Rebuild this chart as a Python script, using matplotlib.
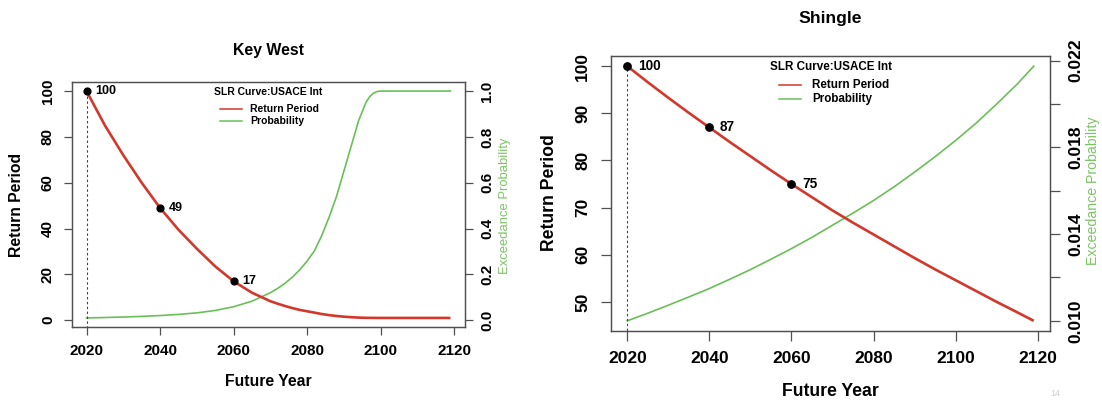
import matplotlib
matplotlib.use("Agg")
import matplotlib.pyplot as plt

plt.rcParams['font.family'] = ['Liberation Sans', 'DejaVu Sans']

# ---------------- data ----------------
# Key West (left panel)
kw_years = [2020, 2025, 2030, 2035, 2040, 2045, 2050, 2055, 2060, 2065, 2070,
            2072, 2074, 2076, 2078, 2080, 2082, 2084, 2086, 2088, 2090, 2092, 2094,
            2096, 2097, 2098, 2099, 2100, 2105, 2110, 2115, 2119]
kw_return_period = [100, 85, 72, 60, 49, 39.5, 31.2, 23.5, 17, 12, 8.3,
                    7.2, 6.2, 5.3, 4.5, 3.9, 3.3, 2.7, 2.22, 1.85, 1.54, 1.32, 1.15,
                    1.05, 1.03, 1.01, 1.0, 1.0, 1.0, 1.0, 1.0, 1.0]
kw_probability = [0.010, 0.0118, 0.0139, 0.0167, 0.0204, 0.0253, 0.032, 0.0426, 0.0588, 0.083,
                  0.12, 0.139, 0.161, 0.188, 0.22, 0.258, 0.303, 0.37, 0.45, 0.54, 0.65,
                  0.76, 0.87, 0.95, 0.975, 0.99, 0.998, 1.0, 1.0, 1.0, 1.0, 1.0]
kw_marked_years = [2020, 2040, 2060]
kw_marked_rp = [100, 49, 17]

# Shingle (right panel)
sh_years = [2020, 2025, 2030, 2035, 2040, 2045, 2050, 2055, 2060, 2065, 2070, 2075,
            2080, 2085, 2090, 2095, 2100, 2105, 2110, 2115, 2119]
sh_return_period = [100, 96.6, 93.3, 90.1, 87, 83.9, 80.9, 77.9, 75, 72.2, 69.4, 66.8,
                    64.3, 61.8, 59.3, 56.9, 54.6, 52.3, 50.0, 47.8, 46.0]
sh_probability = [0.0100, 0.01035, 0.01072, 0.01110, 0.01149, 0.01192, 0.01236, 0.01284,
                  0.01333, 0.01385, 0.01441, 0.01497, 0.01555, 0.01618, 0.01686, 0.01757,
                  0.01832, 0.01912, 0.02000, 0.02092, 0.02174]
sh_marked_years = [2020, 2040, 2060]
sh_marked_rp = [100, 87, 75]

x_ticks = [2020, 2040, 2060, 2080, 2100, 2120]
kw_left_ticks = [0, 20, 40, 60, 80, 100]
kw_right_ticks = [0.0, 0.2, 0.4, 0.6, 0.8, 1.0]
kw_right_labels = ['0.0', '0.2', '0.4', '0.6', '0.8', '1.0']
sh_left_ticks = [50, 60, 70, 80, 90, 100]
sh_right_ticks = [0.010, 0.012, 0.014, 0.016, 0.018, 0.020, 0.022]
sh_right_labels = ['0.010', '', '0.014', '', '0.018', '', '0.022']

titles = ['Key West', 'Shingle']
legend_title = 'SLR Curve:USACE Int'
legend_labels = ['Return Period', 'Probability']

# ---------------- style ----------------
W, H = 1102, 400
RED = '#d2382b'
GREEN = '#6abf58'
GREEN_TXT = '#7cc466'
FRAME = '#505050'

fig = plt.figure(figsize=(W / 100, H / 100), dpi=100)


def fx(x):
    return x / W


def fy(y):
    return 1 - y / H


def rng(vals):
    lo, hi = min(vals), max(vals)
    d = (hi - lo) * 0.04
    return lo - d, hi + d


def panel(rect_px, years, rp, prob, myears, mrp, yticks, rticks, rlabels, s, cfg):
    l, t, r, b = rect_px
    ax = fig.add_axes([fx(l), fy(b), fx(r - l), (b - t) / H])
    ax2 = ax.twinx()
    ax.set_xlim(*rng(years))
    ax.set_ylim(*rng(rp))
    ax2.set_ylim(*rng(prob))
    ax.set_zorder(2)
    ax.patch.set_visible(False)

    ax2.plot(years, prob, color=GREEN, lw=1.2)
    ax.plot(years, rp, color=RED, lw=1.9, solid_capstyle='butt')
    ylo = ax.get_ylim()[0]
    ax.plot([myears[0], myears[0]], [ylo - 5, mrp[0]], color='#444444', lw=0.8,
            ls=(0, (2.2, 2.2)), clip_on=True)
    ax.scatter(myears, mrp, s=cfg['ms'], color='black', zorder=5)
    for xv, yv in zip(myears, mrp):
        ax.annotate(f'{yv:g}', (xv, yv), xytext=(cfg['ann_off'], 0), textcoords='offset points',
                    ha='left', va='center', fontsize=cfg['ann_fs'], fontweight='bold')

    for a in (ax, ax2):
        for sp in a.spines.values():
            sp.set_color(FRAME)
            sp.set_linewidth(0.9)
    ax.set_xticks(x_ticks)
    ax.set_xticklabels([str(v) for v in x_ticks], fontsize=cfg['tick_fs'], fontweight='bold')
    ax.set_yticks(yticks)
    ax.set_yticklabels([str(v) for v in yticks], fontsize=cfg['tick_fs'], fontweight='bold',
                       rotation=90, va='center')
    ax2.set_yticks(rticks)
    ax2.set_yticklabels(rlabels, fontsize=cfg['tick_fs'], fontweight='bold',
                        rotation=90, va='center')
    ax.tick_params(axis='x', length=cfg['tl'], width=0.9, color=FRAME, pad=cfg['xpad'])
    ax.tick_params(axis='y', length=cfg['tl'], width=0.9, color=FRAME, pad=cfg['ypad'])
    ax2.tick_params(axis='y', length=cfg['tl'], width=0.9, color=FRAME, pad=cfg['rpad'])

    # legend (manual, R style)
    cx = (l + r) / 2
    fig.text(fx(cx), fy(cfg['leg_title_y']), legend_title, ha='center', va='center',
             fontsize=cfg['leg_fs'], fontweight='bold')
    for i, (lab, col) in enumerate(zip(legend_labels, [RED, GREEN])):
        yy = cfg['leg_rows'][i]
        fig.add_artist(plt.Line2D([fx(cfg['leg_line'][0]), fx(cfg['leg_line'][1])],
                                  [fy(yy), fy(yy)], color=col, lw=1.1,
                                  transform=fig.transFigure))
        fig.text(fx(cfg['leg_text_x']), fy(yy), lab, ha='left', va='center',
                 fontsize=cfg['leg_fs'], fontweight='bold')

    # titles and axis labels
    fig.text(fx(cx), fy(cfg['title_y']), titles[s], ha='center', va='center',
             fontsize=cfg['title_fs'], fontweight='bold')
    fig.text(fx(cx), fy(cfg['xlab_y']), 'Future Year', ha='center', va='center',
             fontsize=cfg['lab_fs'], fontweight='bold')
    fig.text(fx(cfg['ylab_x']), fy(cfg['ylab_y']), 'Return Period', ha='center', va='center',
             rotation=90, fontsize=cfg['lab_fs'], fontweight='bold')
    fig.text(fx(cfg['glab_x']), fy(cfg['glab_y']), 'Exceedance Probability', ha='center',
             va='center', rotation=90, fontsize=cfg['glab_fs'], color=GREEN_TXT)
    return ax, ax2


cfg_left = dict(ms=24, ann_off=6, ann_fs=9, tick_fs=11, tl=6, xpad=6.5, ypad=6.3, rpad=5,
                leg_title_y=92, leg_rows=[109, 121], leg_line=(220, 242), leg_text_x=250,
                leg_fs=7.5, title_y=50, title_fs=11.4, xlab_y=382, lab_fs=11.3,
                ylab_x=17, ylab_y=205, glab_x=505, glab_y=206, glab_fs=9.4)
cfg_right = dict(ms=28, ann_off=7.5, ann_fs=9.8, tick_fs=12.5, tl=7, xpad=7.5, ypad=8, rpad=6,
                 leg_title_y=67, leg_rows=[85, 99], leg_line=(779, 801), leg_text_x=812,
                 leg_fs=8.4, title_y=19, title_fs=12.6, xlab_y=391, lab_fs=12.7,
                 ylab_x=549, ylab_y=193, glab_x=1093, glab_y=191, glab_fs=10.2)

panel((72, 82, 465, 327), kw_years, kw_return_period, kw_probability, kw_marked_years,
      kw_marked_rp, kw_left_ticks, kw_right_ticks, kw_right_labels, 0, cfg_left)
panel((611, 56, 1050, 331), sh_years, sh_return_period, sh_probability, sh_marked_years,
      sh_marked_rp, sh_left_ticks, sh_right_ticks, sh_right_labels, 1, cfg_right)

# faint page number at bottom right
fig.text(fx(1055), fy(394), '14', ha='center', va='center', fontsize=6.5, color='#cfcfcf')

fig.savefig('out.png', dpi=100)
